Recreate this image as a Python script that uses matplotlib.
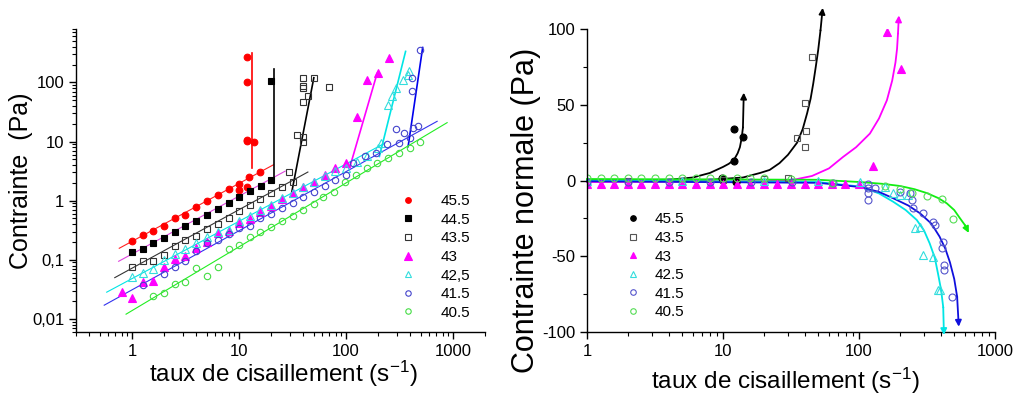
import numpy as np
import matplotlib
matplotlib.use("Agg")
import matplotlib.pyplot as plt
from matplotlib.lines import Line2D
from matplotlib.ticker import FixedLocator, FixedFormatter, LogLocator, NullFormatter, MultipleLocator

plt.rcParams['font.family'] = ['Liberation Sans', 'DejaVu Sans']
plt.rcParams['mathtext.default'] = 'regular'
plt.rcParams['axes.unicode_minus'] = False

# ---------------- left panel data : shear stress vs shear rate ----------------
l455_x = [1, 1.26, 1.58, 2, 2.5, 3.16, 4, 5, 6.3, 8, 10, 10, 12.4, 12, 15.8, 12, 12, 12, 12, 13.8]
l455_y = [0.21, 0.26, 0.31, 0.38, 0.5, 0.58, 0.78, 0.97, 1.25, 1.55, 1.95, 1.5, 2.5, 1.7, 3.1, 265, 100, 10.2, 10.6, 10]

l445_x = [1, 1.26, 1.58, 2, 2.5, 3.16, 4, 5, 6.3, 8, 10, 12.6, 15.9, 20, 20]
l445_y = [0.133, 0.154, 0.19, 0.235, 0.29, 0.37, 0.46, 0.58, 0.73, 0.92, 1.17, 1.44, 1.8, 2.2, 104]

l435_x = [1, 1.26, 1.58, 2, 2.5, 3.16, 4, 5, 6.3, 8, 10, 12.6, 15.8, 20, 25, 31.6, 29,
          35, 39.5, 39.5, 40, 44, 40, 40, 40, 50, 69]
l435_y = [0.076, 0.096, 0.094, 0.12, 0.17, 0.22, 0.25, 0.33, 0.4, 0.5, 0.68, 0.85, 1.08, 1.37, 1.7, 2.1, 3.1,
          13, 12, 10, 46, 58, 80, 86, 120, 120, 85]

l43_x = [0.8, 1, 1.26, 1.58, 2, 2.5, 3.16, 4, 5, 6.3, 8, 10, 12.6, 15.8, 20, 25, 31.6, 40, 50, 63, 79, 100,
         126, 158, 199, 252]
l43_y = [0.029, 0.023, 0.042, 0.043, 0.076, 0.103, 0.117, 0.16, 0.2, 0.28, 0.31, 0.42, 0.49, 0.65, 0.82, 1.08,
         1.36, 1.7, 2.1, 2.75, 3.6, 4.4, 25.6, 108, 142, 255]

l425_x = [1, 1.26, 1.58, 2, 2.5, 3.16, 4, 5, 6.3, 8, 10, 12.6, 15.8, 20, 25, 31.6, 40, 50, 63, 79, 100,
          126, 158, 200, 210, 246, 270, 290, 340, 385, 380]
l425_y = [0.052, 0.06, 0.07, 0.1, 0.126, 0.15, 0.19, 0.24, 0.29, 0.32, 0.46, 0.55, 0.7, 0.86, 1.1, 1.35, 1.7,
          2.1, 2.6, 3.2, 3.6, 4.5, 5.8, 7.9, 9.6, 41, 58, 82, 112, 155, 136]

l415_x = [1.26, 2, 2.5, 3.16, 4, 5, 6.3, 8, 10, 12.6, 15.8, 20, 25, 31.6, 40, 50, 63, 79, 100,
          116, 150, 190, 240, 295, 310, 350, 395, 420, 470, 415, 415, 490]
l415_y = [0.037, 0.058, 0.076, 0.096, 0.14, 0.19, 0.22, 0.27, 0.35, 0.38, 0.5, 0.6, 0.75, 0.92, 1.15, 1.4,
          1.75, 2.2, 2.7, 4.4, 5.6, 6.5, 9.2, 16.6, 9.6, 14.2, 11.7, 17, 18.6, 73, 117, 360]

l405_x = [1.58, 2, 2.5, 3.16, 4, 5, 6.3, 8, 10, 12.6, 15.8, 20, 25, 31.6, 40, 50, 61, 77, 98, 124, 156, 195,
          246, 310, 393, 490]
l405_y = [0.024, 0.027, 0.039, 0.042, 0.073, 0.054, 0.076, 0.15, 0.18, 0.24, 0.3, 0.36, 0.45, 0.56, 0.7, 0.88,
          1.17, 1.4, 2.1, 2.75, 3.6, 4.4, 5.3, 6.5, 7.9, 10]

# power-law fits  tau = K * rate^n  (None = no fit drawn)
fit_K = [0.205, 0.125, 0.072, None, 0.048, 0.031, 0.0138]
fit_n = [0.98, 0.98, 0.99, None, 0.97, 1.0, 1.08]
fit_from = [0.76, 0.75, 0.69, None, 0.58, 0.55, 0.88]
fit_to = [21, 27, 44, None, 230, 710, 880]

# steep branches (start and end points)
steep_x0 = [13.2, 21, 31, 108, 205, 380, None]
steep_y0 = [3.6, 2.2, 1.35, 3.6, 5.6, 8.2, None]
steep_x1 = [13.2, 21, 50, 195, 360, 520, None]
steep_y1 = [310, 172, 120, 142, 335, 390, None]

# ---------------- right panel data : normal stress vs shear rate ----------------
x_low = [1, 1.26, 1.58, 2, 2.5, 3.16, 4, 5, 6.3, 8, 10, 12.6, 15.8, 20, 25, 31.6, 40, 50, 63, 79, 100]

r455_x = [9.8, 12, 12, 14, 12.5]
r455_y = [2, 34, 13, 28.5, -1]

r435_x = [2, 5, 10, 20, 30, 35, 40, 40.7, 40, 45]
r435_y = [0, 0, 0.5, 1, 1.5, 28, 22, 32.7, 51, 81.5]

r43_x = x_low + [127, 161, 204]
r43_y = [-2] * len(x_low) + [9.6, 98, 73.5]

r425_x = [1, 5, 20, 50, 102, 155, 177, 200, 228, 258, 280, 296, 350, 380, 390]
r425_y = [0, 0, 0, 0, -1, -4, -8, -9.6, -9.6, -31.5, -30.7, -49, -50.5, -72, -72]

r415_x = [1, 2, 4, 8, 16, 32, 64, 117, 117, 117, 117, 130, 200, 237, 245, 250, 295, 350, 360, 415, 405, 420,
          420, 480]
r415_y = [-1, -1, -1, -1, -1, -1, -1.5, -2, -5, -8, -13, -5, -7.5, -8, -13, -18, -21.5, -27.5, -29.5, -40.5,
          -44.5, -55.8, -59, -76.6]

r405_x = [1, 1.26, 1.58, 2, 2.5, 3.16, 4, 5, 6.3, 8, 10, 12.6, 15.8, 20, 31.6, 63, 155, 200, 245, 315, 405, 490]
r405_y = [1.5] * 14 + [1, -1.5, -3.6, -5.6, -8.3, -10, -12.2, -25.4]

# guide curves (end with an arrow)
c455_x = [1, 4, 6, 8, 10, 11, 12, 12.8, 13.3, 13.7, 14, 14.2]
c455_y = [0, 0.5, 2, 5, 9, 11, 13.5, 18, 22, 28, 35, 58]
c435_x = [1, 8, 14, 18.7, 22, 26, 30, 35, 38.5, 41.5, 44, 46, 48, 50, 52, 54]
c435_y = [0, 0.5, 2, 5, 7, 11.5, 17, 25, 34, 44.5, 54, 64, 75, 86, 99, 114]
c43_x = [1, 20, 33, 45, 60, 76, 95, 120, 140, 160, 175, 185, 190, 193, 196]
c43_y = [-1, -0.5, 0.5, 3, 8, 15.5, 22, 31, 41, 53, 66, 78, 87, 97, 109]
c425_x = [1, 50, 102, 140, 178, 220, 265, 300, 330, 360, 380, 400, 415, 420]
c425_y = [0, -1, -4, -8.5, -14, -19.5, -26, -33, -41.5, -51, -61.5, -72, -83.6, -102]
c415_x = [1, 50, 102, 140, 178, 230, 280, 340, 390, 430, 465, 500, 525, 540]
c415_y = [-0.5, -1.5, -4.3, -7.5, -11.7, -16.5, -21.6, -28.5, -37, -45, -54, -65, -76.6, -96.5]
c405_x = [1, 50, 102, 150, 200, 255, 315, 380, 440, 500, 550, 600, 640]
c405_y = [1, 0.5, -1, -2.2, -3.6, -5.7, -8.3, -11.5, -15, -19.5, -24.8, -29.5, -34.6]

# ---------------- styles ----------------
left_labels = ['45.5', '44.5', '43.5', '43', '42,5', '41.5', '40.5']
left_x = [l455_x, l445_x, l435_x, l43_x, l425_x, l415_x, l405_x]
left_y = [l455_y, l445_y, l435_y, l43_y, l425_y, l415_y, l405_y]
mk = ['o', 's', 's', '^', '^', 'o', 'o']
ms = [4.8, 4.4, 4.6, 6, 5.8, 4.6, 4.6]
face = ['#ff0000', '#000000', 'none', '#ff00ff', 'none', 'none', 'none']
edge = ['#ff0000', '#000000', '#333333', '#ff00ff', '#33dddd', '#4444cc', '#44dd44']
fitcol = ['#ff2020', '#dd44dd', '#333333', None, '#00e5e5', '#3333ee', '#22ee22']
steepcol = ['#ff0000', '#000000', '#000000', '#ff00ff', '#00e5e5', '#0000ee', None]

fig = plt.figure(figsize=(10.18, 3.96), dpi=100)
ax1 = fig.add_axes([0.0747, 0.1616, 0.402, 0.765])
ax2 = fig.add_axes([0.5766, 0.1616, 0.401, 0.765])

for ax in (ax1, ax2):
    ax.spines['top'].set_visible(False)
    ax.spines['right'].set_visible(False)
    for s in ('left', 'bottom'):
        ax.spines[s].set_linewidth(1.0)
    ax.tick_params(which='major', direction='out', length=5, width=1, labelsize=12)
    ax.tick_params(which='minor', direction='out', length=3, width=0.8)

# ---- left
ax1.set_xscale('log')
ax1.set_yscale('log')
for i in range(7):
    if fit_K[i] is not None:
        xf = np.array([fit_from[i], fit_to[i]])
        ax1.plot(xf, fit_K[i] * xf ** fit_n[i], color=fitcol[i], lw=0.8, zorder=1)
    if steep_x0[i] is not None:
        ax1.plot([steep_x0[i], steep_x1[i]], [steep_y0[i], steep_y1[i]], color=steepcol[i], lw=1.2, zorder=1)
    ax1.plot(left_x[i], left_y[i], ls='none', marker=mk[i], ms=ms[i], mfc=face[i], mec=edge[i],
             mew=0.8, zorder=2)

ax1.set_xlim(0.3, 2000)
ax1.set_ylim(0.006, 800)
ax1.xaxis.set_major_locator(FixedLocator([1, 10, 100, 1000]))
ax1.xaxis.set_major_formatter(FixedFormatter(['1', '10', '100', '1000']))
ax1.xaxis.set_minor_locator(LogLocator(base=10, subs=np.arange(2, 10)))
ax1.xaxis.set_minor_formatter(NullFormatter())
ax1.yaxis.set_major_locator(FixedLocator([0.01, 0.1, 1, 10, 100]))
ax1.yaxis.set_major_formatter(FixedFormatter(['0,01', '0,1', '1', '10', '100']))
ax1.yaxis.set_minor_locator(LogLocator(base=10, subs=np.arange(2, 10)))
ax1.yaxis.set_minor_formatter(NullFormatter())

ax1.set_xlabel('taux de cisaillement (s$^{-1}$)', fontsize=17.5, va='top')
ax1.xaxis.set_label_coords(0.506, -0.09)
ax1.set_ylabel('Contrainte  (Pa)', fontsize=18)
ax1.yaxis.set_label_coords(-0.105, 0.5)

h1 = [Line2D([], [], ls='none', marker=mk[i], ms=ms[i] * 0.85, mfc=face[i], mec=edge[i], mew=0.8)
      for i in range(7)]
ax1.legend(h1, left_labels, loc='upper left', bbox_to_anchor=(0.775, 0.48), frameon=False, fontsize=11,
           handlelength=1.0, handletextpad=1.6, labelspacing=0.3, borderpad=0)

# ---- right
right_labels = ['45.5', '43.5', '43', '42.5', '41.5', '40.5']
rx = [r455_x, r435_x, r43_x, r425_x, r415_x, r405_x]
ry = [r455_y, r435_y, r43_y, r425_y, r415_y, r405_y]
cx = [c455_x, c435_x, c43_x, c425_x, c415_x, c405_x]
cy = [c455_y, c435_y, c43_y, c425_y, c415_y, c405_y]
rmk = ['o', 's', '^', '^', 'o', 'o']
rms = [5, 5, 6, 6, 5, 5]
rface = ['#000000', 'none', '#ff00ff', 'none', 'none', 'none']
redge = ['#000000', '#555555', '#ff00ff', '#33dddd', '#5555cc', '#55dd55']
ccol = ['#000000', '#000000', '#ff00ff', '#00e5e5', '#1010dd', '#11ee11']

ax2.set_xscale('log')
for i in range(6):
    ax2.plot(cx[i][:-1], cy[i][:-1], color=ccol[i], lw=1.3, zorder=1, clip_on=False)
    ax2.annotate('', xy=(cx[i][-1], cy[i][-1]), xytext=(cx[i][-2], cy[i][-2]),
                 arrowprops=dict(arrowstyle='-|>', color=ccol[i], lw=1.3, mutation_scale=9,
                                 shrinkA=0, shrinkB=0),
                 annotation_clip=False)
    ax2.plot(rx[i], ry[i], ls='none', marker=rmk[i], ms=rms[i], mfc=rface[i], mec=redge[i],
             mew=0.8, zorder=2)

ax2.set_xlim(1, 1000)
ax2.set_ylim(-100, 100)
ax2.xaxis.set_major_locator(FixedLocator([1, 10, 100, 1000]))
ax2.xaxis.set_major_formatter(FixedFormatter(['1', '10', '100', '1000']))
ax2.xaxis.set_minor_locator(LogLocator(base=10, subs=np.arange(2, 10)))
ax2.xaxis.set_minor_formatter(NullFormatter())
ax2.yaxis.set_major_locator(MultipleLocator(50))
ax2.yaxis.set_minor_locator(MultipleLocator(25))

ax2.set_xlabel('taux de cisaillement (s$^{-1}$)', fontsize=17.5, va='top')
ax2.xaxis.set_label_coords(0.485, -0.11)
ax2.set_ylabel('Contrainte normale (Pa)', fontsize=22)
ax2.yaxis.set_label_coords(-0.112, 0.4)

h2 = [Line2D([], [], ls='none', marker=rmk[i], ms=rms[i] * 0.8, mfc=rface[i], mec=redge[i], mew=0.8)
      for i in range(6)]
ax2.legend(h2, right_labels, loc='upper left', bbox_to_anchor=(0.075, 0.42), frameon=False, fontsize=11,
           handlelength=1.0, handletextpad=0.9, labelspacing=0.3, borderpad=0)

fig.savefig('out.png', dpi=100)
